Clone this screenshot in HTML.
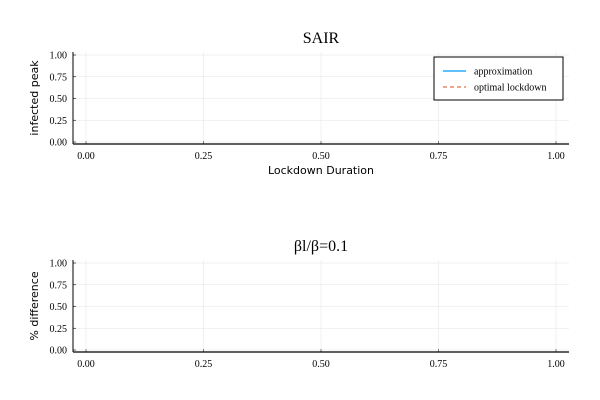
<!DOCTYPE html>
<html><head><meta charset="utf-8"><style>
body{margin:0;background:#fff;}
svg{display:block;}
</style></head><body>
<svg id="c" width="600" height="400" xmlns="http://www.w3.org/2000/svg" font-family="Liberation Serif, serif"></svg>
<script>
const xTicks=[0,0.25,0.5,0.75,1];
const xTickLabels=["0.00","0.25","0.50","0.75","1.00"];
const yTicks=[0,0.25,0.5,0.75,1];
const yTickLabels=["0.00","0.25","0.50","0.75","1.00"];
const approxX=[];
const approxY=[];
const optimalX=[];
const optimalY=[];
const diffX=[];
const diffY=[];
const svg=document.getElementById('c');
const NS='http://www.w3.org/2000/svg';
function mk(t,a,p){const e=document.createElementNS(NS,t);for(const k in a)e.setAttribute(k,a[k]);(p||svg).appendChild(e);return e;}
const panels=[
 {top:52,bottom:144,title:"SAIR",titleY:43,ylabel:"infected peak",xlabel:"Lockdown Duration",name:"top-panel",series:[[approxX,approxY,"#009af9",""],[optimalX,optimalY,"#e26f46","4,3"]]},
 {top:260,bottom:352,title:"βl/β=0.1",titleY:251,ylabel:"% difference",xlabel:"",name:"bottom-panel",series:[[diffX,diffY,"#009af9",""]]}
];
const L=73,R=569;
function sx(v){return 86+v*470;}
panels.forEach(p=>{
 const g=mk('g',{});
 
 
 const sy=v=>p.bottom-2-v*87;
 xTicks.forEach((t,i)=>{
  const gl=mk('line',{x1:sx(t),x2:sx(t),y1:p.top,y2:p.bottom,stroke:'#e6e6e6','stroke-width':0.6},g);
  
  
  mk('line',{x1:sx(t),x2:sx(t),y1:p.bottom,y2:p.bottom-3,stroke:'#000','stroke-width':0.6},g);
  const tx=mk('text',{x:sx(t),y:p.bottom+15,'font-size':10,'text-anchor':'middle'},g);
  tx.textContent=xTickLabels[i];
  
  
 });
 yTicks.forEach((t,i)=>{
  const gl=mk('line',{x1:L,x2:R,y1:sy(t),y2:sy(t),stroke:'#e6e6e6','stroke-width':0.6},g);
  
  
  mk('line',{x1:L,x2:L+3,y1:sy(t),y2:sy(t),stroke:'#000','stroke-width':0.6},g);
  const tx=mk('text',{x:L-6,y:sy(t)+3.5,'font-size':10,'text-anchor':'end'},g);
  tx.textContent=yTickLabels[i];
  
  
 });
 mk('line',{x1:L,x2:L,y1:p.top,y2:p.bottom,stroke:'#000','stroke-width':1},g);
 mk('line',{x1:L,x2:R,y1:p.bottom,y2:p.bottom,stroke:'#000','stroke-width':1.2},g);
 p.series.forEach(s=>{
  const pts=s[0].map((x,i)=>sx(x)+','+sy(s[1][i])).join(' ');
  const pl=mk('polyline',{points:pts,fill:'none',stroke:s[2],'stroke-dasharray':s[3]},g);
  
  
 });
 const ti=mk('text',{x:321,y:p.titleY,'font-size':16,'text-anchor':'middle'},g);
 ti.textContent=p.title;
 
 
 const yl=mk('text',{x:0,y:0,'font-size':11,'text-anchor':'middle','font-family':'DejaVu Sans, sans-serif',transform:`translate(38,${(p.top+p.bottom)/2}) rotate(-90)`},g);
 yl.textContent=p.ylabel;
 
 
 if(p.xlabel){
  const xl=mk('text',{x:321,y:p.bottom+30,'font-size':11,'text-anchor':'middle','font-family':'DejaVu Sans, sans-serif'},g);
  xl.textContent=p.xlabel;
  
  
 }
});
const lg=mk('g',{});


mk('rect',{x:434,y:57,width:129,height:43,fill:'#fff',stroke:'#000','stroke-width':1},lg);
mk('line',{x1:443,x2:466,y1:71,y2:71,stroke:'#009af9','stroke-width':1.2},lg);
mk('line',{x1:443,x2:466,y1:87,y2:87,stroke:'#e26f46','stroke-width':1.2,'stroke-dasharray':'4,3'},lg);
const l1=mk('text',{x:474,y:74.5,'font-size':10},lg);l1.textContent='approximation';


const l2=mk('text',{x:474,y:90.5,'font-size':10},lg);l2.textContent='optimal lockdown';


</script>
</body></html>
